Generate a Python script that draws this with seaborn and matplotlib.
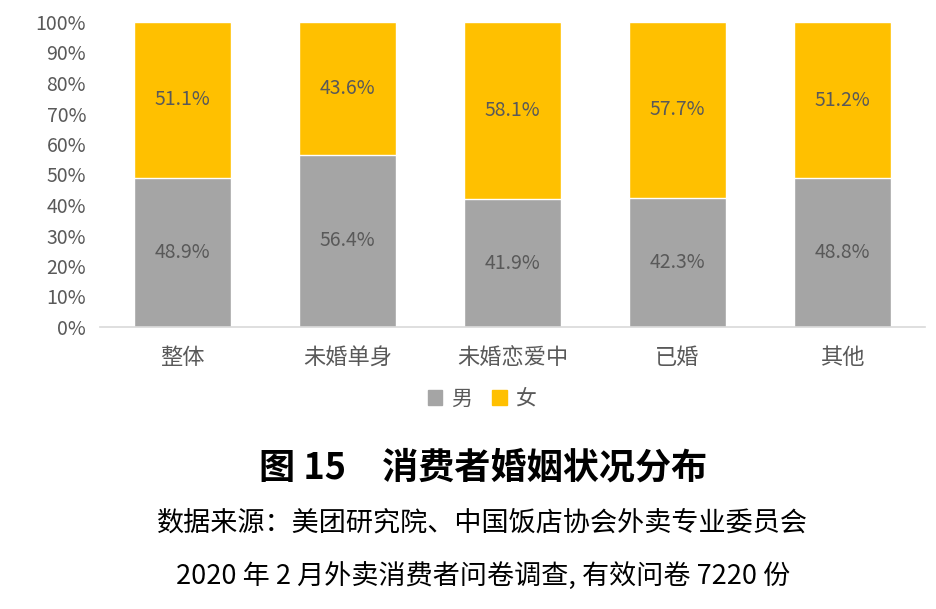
import matplotlib
matplotlib.use("Agg")
import matplotlib.pyplot as plt
import seaborn as sns
import pandas as pd
from matplotlib.patches import Patch

categories = ["整体", "未婚单身", "未婚恋爱中", "已婚", "其他"]
male = [48.9, 56.4, 41.9, 42.3, 48.8]
female = [51.1, 43.6, 58.1, 57.7, 51.2]
series_names = ["男", "女"]
yticks = [0, 10, 20, 30, 40, 50, 60, 70, 80, 90, 100]

sns.set_theme(style="white")
plt.rcParams['font.family'] = ['Liberation Sans Narrow', 'Noto Sans CJK SC', 'DejaVu Sans']

GRAY = "#A5A5A5"
YELLOW = "#FFC000"
TXT = "#595959"

df = pd.DataFrame({"cat": categories, "male": male, "female": female})
df["total"] = df["male"] + df["female"]

fig = plt.figure(figsize=(9.37, 6.09), dpi=100)
ax = fig.add_axes([100/937, (609-327)/609, 825/937, 305/609])

sns.barplot(data=df, x="cat", y="total", color=YELLOW, width=0.59, ax=ax, saturation=1)
sns.barplot(data=df, x="cat", y="male", color=GRAY, width=0.59, ax=ax, saturation=1)

for i, (m, f) in enumerate(zip(male, female)):
    ax.text(i, m / 2, f"{m:.1f}%", ha="center", va="center", color=TXT, fontsize=14)
    ax.text(i, m + f / 2, f"{f:.1f}%", ha="center", va="center", color=TXT, fontsize=14)

ax.set_ylim(0, 100)
ax.set_xlim(-0.5, 4.5)
ax.set_yticks(yticks)
ax.set_yticklabels([f"{t}%" for t in yticks], color=TXT, fontsize=14)
ax.set_xticklabels(categories, color=TXT, fontsize=16, family=['Noto Sans CJK SC'])
ax.set_xlabel("")
ax.set_ylabel("")
ax.tick_params(axis="both", length=0)
ax.tick_params(axis="x", pad=14)
ax.tick_params(axis="y", pad=10)
for s in ["top", "right", "left"]:
    ax.spines[s].set_visible(False)
ax.spines["bottom"].set_color("#D9D9D9")
ax.spines["bottom"].set_linewidth(1.2)

handles = [Patch(color=GRAY, label=series_names[0]), Patch(color=YELLOW, label=series_names[1])]
leg = fig.legend(handles=handles, loc="center", bbox_to_anchor=(482/937, 1 - 399/609), ncol=2,
                 frameon=False, handlelength=0.7, handleheight=0.7, handletextpad=0.4, columnspacing=1.0,
                 prop={'family': ['Noto Sans CJK SC'], 'size': 15})
for t in leg.get_texts():
    t.set_color(TXT)

fig.text(483/937, 1 - 468/609, "图 15　消费者婚姻状况分布", ha="center", va="center",
         fontsize=26, fontweight="bold", family=['Noto Sans CJK SC'], color="black")
fig.text(482/937, 1 - 523/609, "数据来源：美团研究院、中国饭店协会外卖专业委员会", ha="center", va="center",
         fontsize=19.5, family=['Noto Sans CJK SC'], color="black")
fig.text(483/937, 1 - 577/609, "2020 年 2 月外卖消费者问卷调查, 有效问卷 7220 份", ha="center", va="center",
         fontsize=19.5, family=['Noto Sans CJK SC'], color="black")

fig.savefig("out.png", dpi=100)
